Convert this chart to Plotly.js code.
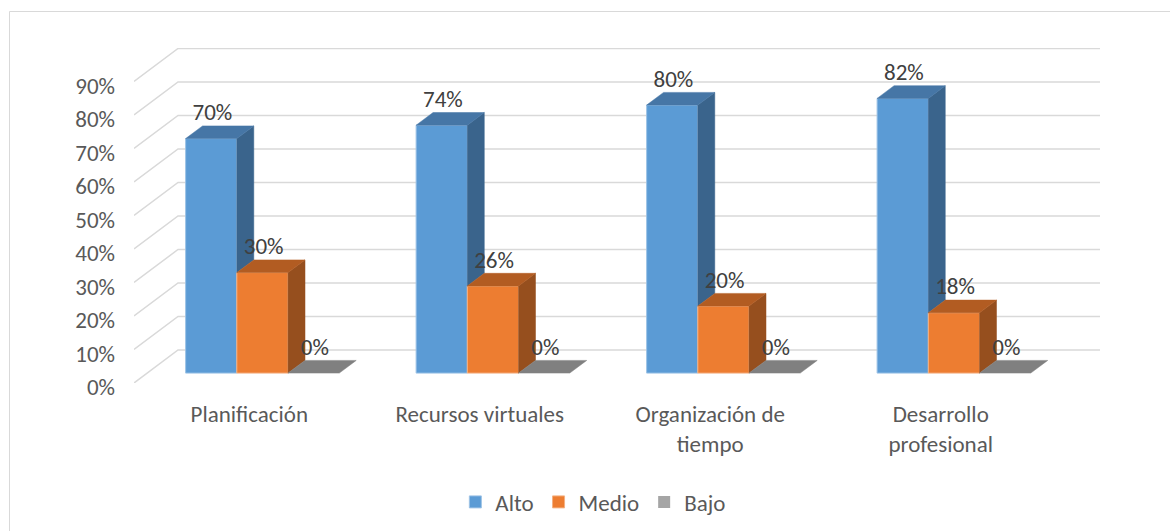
<!DOCTYPE html>
<html>
<head>
<meta charset="utf-8">
<script src="https://cdn.plot.ly/plotly-3.0.1.min.js"></script>
<style>
html,body{margin:0;padding:0;background:#ffffff;}
#chart{width:1170px;height:531px;}
</style>
</head>
<body>
<div id="chart"></div>
<script>
// ---- data ----
const categories = ['Planificación', 'Recursos virtuales', 'Organización de<br>tiempo', 'Desarrollo<br>profesional'];
const seriesNames = ['Alto', 'Medio', 'Bajo'];
const alto  = [70, 74, 80, 82];
const medio = [30, 26, 20, 18];
const bajo  = [0, 0, 0, 0];
const yTickVals = [0, 10, 20, 30, 40, 50, 60, 70, 80, 90];
const yTickText = ['0%', '10%', '20%', '30%', '40%', '50%', '60%', '70%', '80%', '90%'];

// ---- styles ----
const frontColors = ['#5B9BD5', '#ED7D31', '#A5A5A5'];
const edgeColors  = ['#9DC3E6', '#F4B183', '#A5A5A5'];
const topColors   = ['#4676A6', '#B25C22', '#808080'];
const sideColors  = ['#3A648C', '#964F1E', '#6E6E6E'];
const FONT = 'Carlito, Calibri, Lato, sans-serif';
const FS = 23;

// pseudo-3D geometry (in axis units)
const DX = 0.191;     // full floor depth, x units
const DY = 9.85;      // full floor depth, y units
const F1 = 0.30;      // bar front plane depth fraction
const F2 = 0.685;     // bar back plane depth fraction
const W = 2 / 9;      // bar width (gap width 150%)
const BX = F1 * DX, BY = F1 * DY;
const ddx = (F2 - F1) * DX, ddy = (F2 - F1) * DY;

const series = [alto, medio, bajo];
const xIdx = categories.map((_, i) => i);
const traces = [];

// front faces as bars
series.forEach((vals, s) => {
  traces.push({
    type: 'bar',
    name: seriesNames[s],
    x: xIdx.map(c => c + BX),
    y: vals,
    base: vals.map(() => BY),
    width: W,
    offset: -1 / 3 + s * W,
    marker: {color: frontColors[s], line: {color: edgeColors[s], width: s === 2 ? 0 : 1}},
    hoverinfo: 'skip',
    showlegend: true
  });
});

// side and top faces as filled polygons
series.forEach((vals, s) => {
  const sx = [], sy = [], tx = [], ty = [];
  vals.forEach((v, c) => {
    const xl = c + BX - 1 / 3 + s * W, xr = xl + W;
    const yt = BY + v;
    tx.push(xl, xr, xr + ddx, xl + ddx, xl, null);
    ty.push(yt, yt, yt + ddy, yt + ddy, yt, null);
    const lower = s < series.length - 1 ? Math.min(series[s + 1][c], v) : 0;
    if (v > lower) {
      const yl = BY + lower;
      sx.push(xr, xr, xr + ddx, xr + ddx, xr, null);
      sy.push(yl, yt, yt + ddy, yl + ddy, yl, null);
    }
  });
  if (sx.length) traces.push({type: 'scatter', mode: 'lines', x: sx, y: sy, fill: 'toself',
    fillcolor: sideColors[s], line: {color: sideColors[s], width: 0.5}, hoverinfo: 'skip', showlegend: false});
  traces.push({type: 'scatter', mode: 'lines', x: tx, y: ty, fill: 'toself',
    fillcolor: topColors[s], line: {color: topColors[s], width: 0.5}, hoverinfo: 'skip', showlegend: false});
});

// data labels
series.forEach((vals, s) => {
  traces.push({
    type: 'scatter', mode: 'text',
    x: vals.map((v, c) => c + BX - 1 / 3 + s * W + W / 2 + 0.005),
    y: vals.map(v => BY + v + ddy + 3.4),
    text: vals.map(v => v + '%'),
    textposition: 'middle center',
    textfont: {family: FONT, size: FS, color: '#404040'},
    hoverinfo: 'skip', showlegend: false, cliponaxis: false
  });
});

// skewed gridlines (floor diagonal + back wall)
const shapes = yTickVals.map(t => ({
  type: 'path', xref: 'x', yref: 'y', layer: 'below',
  path: `M${-0.5},${t} L${-0.5 + DX},${t + DY} L${3.5 + DX},${t + DY}`,
  line: {color: '#D9D9D9', width: 1.5}
}));
// chart area border
shapes.push({type: 'rect', xref: 'paper', yref: 'paper', layer: 'below',
  x0: (9.5 - 134) / 966, x1: (1180 - 134) / 966, y0: (383 - 545) / 335, y1: (383 - 11.5) / 335,
  line: {color: '#D9D9D9', width: 1}});

const layout = {
  width: 1170, height: 531,
  margin: {l: 134, r: 70, t: 48, b: 148, autoexpand: false},
  paper_bgcolor: '#ffffff', plot_bgcolor: 'rgba(0,0,0,0)',
  font: {family: FONT, size: FS, color: '#595959'},
  barmode: 'overlay',
  showlegend: true,
  legend: {orientation: 'h', x: 0.475, xanchor: 'center', y: -0.355, yanchor: 'middle',
    font: {family: FONT, size: FS, color: '#595959'}, bgcolor: 'rgba(0,0,0,0)'},
  xaxis: {range: [-0.5, 3.5 + DX], tickmode: 'array', tickvals: xIdx, ticktext: categories,
    showgrid: false, zeroline: false, showline: false, ticks: '', ticklabelstandoff: 15,
    automargin: false,
    tickfont: {family: FONT, size: FS, color: '#595959'}, fixedrange: true},
  yaxis: {range: [0, 100], tickmode: 'array', tickvals: yTickVals, ticktext: yTickText,
    showgrid: false, zeroline: false, showline: false, ticks: '', ticklabelstandoff: 18,
    ticklabelshift: 4, automargin: false,
    tickfont: {family: FONT, size: FS, color: '#595959'}, fixedrange: true},
  shapes: shapes
};

Plotly.newPlot('chart', traces, layout, {displayModeBar: false, staticPlot: true});
</script>
</body>
</html>
